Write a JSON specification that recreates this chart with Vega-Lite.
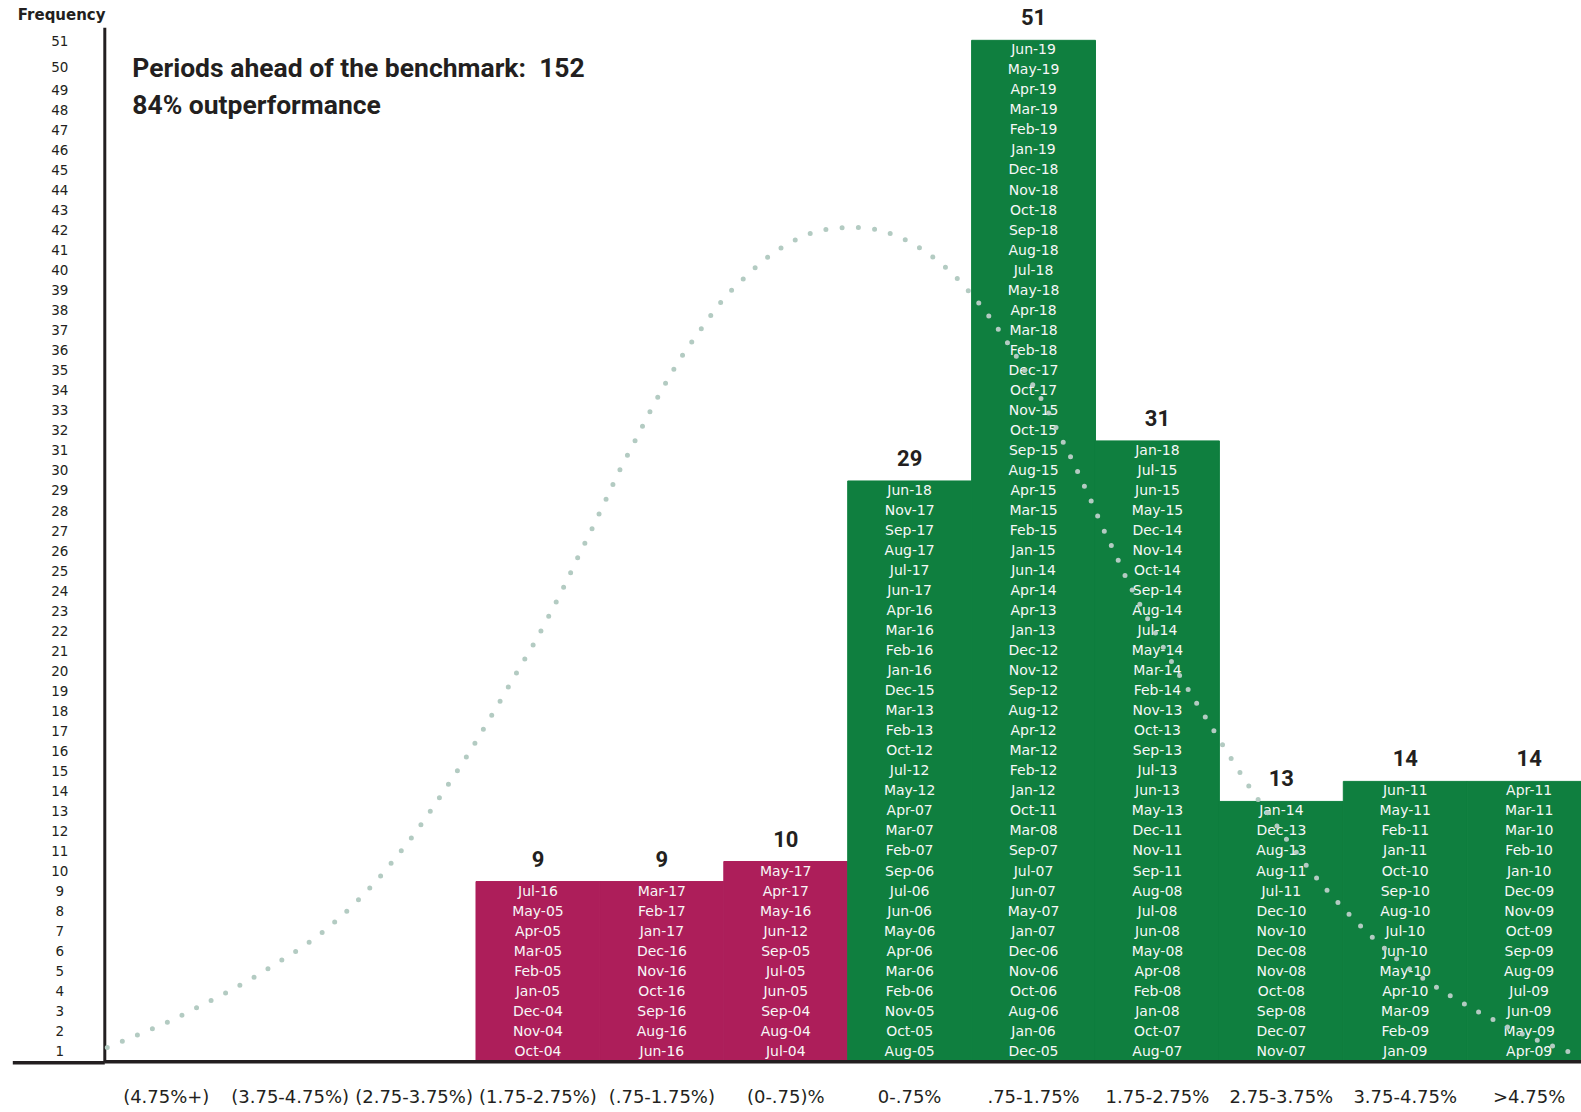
{
  "$schema": "https://vega.github.io/schema/vega-lite/v6.json",
  "width": 1477,
  "height": 1034.5,
  "autosize": {"type": "none"},
  "padding": {"left": 104.3, "top": 27.3, "right": 0, "bottom": 50.2},
  "background": "#ffffff",
  "config": {"view": {"stroke": null}},
  "datasets": {
    "cells": [
      {"c":"(1.75-2.75%)","n":9,"m":"Jul-16","g":"under"},
      {"c":"(1.75-2.75%)","n":8,"m":"May-05","g":"under"},
      {"c":"(1.75-2.75%)","n":7,"m":"Apr-05","g":"under"},
      {"c":"(1.75-2.75%)","n":6,"m":"Mar-05","g":"under"},
      {"c":"(1.75-2.75%)","n":5,"m":"Feb-05","g":"under"},
      {"c":"(1.75-2.75%)","n":4,"m":"Jan-05","g":"under"},
      {"c":"(1.75-2.75%)","n":3,"m":"Dec-04","g":"under"},
      {"c":"(1.75-2.75%)","n":2,"m":"Nov-04","g":"under"},
      {"c":"(1.75-2.75%)","n":1,"m":"Oct-04","g":"under"},
      {"c":"(.75-1.75%)","n":9,"m":"Mar-17","g":"under"},
      {"c":"(.75-1.75%)","n":8,"m":"Feb-17","g":"under"},
      {"c":"(.75-1.75%)","n":7,"m":"Jan-17","g":"under"},
      {"c":"(.75-1.75%)","n":6,"m":"Dec-16","g":"under"},
      {"c":"(.75-1.75%)","n":5,"m":"Nov-16","g":"under"},
      {"c":"(.75-1.75%)","n":4,"m":"Oct-16","g":"under"},
      {"c":"(.75-1.75%)","n":3,"m":"Sep-16","g":"under"},
      {"c":"(.75-1.75%)","n":2,"m":"Aug-16","g":"under"},
      {"c":"(.75-1.75%)","n":1,"m":"Jun-16","g":"under"},
      {"c":"(0-.75)%","n":10,"m":"May-17","g":"under"},
      {"c":"(0-.75)%","n":9,"m":"Apr-17","g":"under"},
      {"c":"(0-.75)%","n":8,"m":"May-16","g":"under"},
      {"c":"(0-.75)%","n":7,"m":"Jun-12","g":"under"},
      {"c":"(0-.75)%","n":6,"m":"Sep-05","g":"under"},
      {"c":"(0-.75)%","n":5,"m":"Jul-05","g":"under"},
      {"c":"(0-.75)%","n":4,"m":"Jun-05","g":"under"},
      {"c":"(0-.75)%","n":3,"m":"Sep-04","g":"under"},
      {"c":"(0-.75)%","n":2,"m":"Aug-04","g":"under"},
      {"c":"(0-.75)%","n":1,"m":"Jul-04","g":"under"},
      {"c":"0-.75%","n":29,"m":"Jun-18","g":"over"},
      {"c":"0-.75%","n":28,"m":"Nov-17","g":"over"},
      {"c":"0-.75%","n":27,"m":"Sep-17","g":"over"},
      {"c":"0-.75%","n":26,"m":"Aug-17","g":"over"},
      {"c":"0-.75%","n":25,"m":"Jul-17","g":"over"},
      {"c":"0-.75%","n":24,"m":"Jun-17","g":"over"},
      {"c":"0-.75%","n":23,"m":"Apr-16","g":"over"},
      {"c":"0-.75%","n":22,"m":"Mar-16","g":"over"},
      {"c":"0-.75%","n":21,"m":"Feb-16","g":"over"},
      {"c":"0-.75%","n":20,"m":"Jan-16","g":"over"},
      {"c":"0-.75%","n":19,"m":"Dec-15","g":"over"},
      {"c":"0-.75%","n":18,"m":"Mar-13","g":"over"},
      {"c":"0-.75%","n":17,"m":"Feb-13","g":"over"},
      {"c":"0-.75%","n":16,"m":"Oct-12","g":"over"},
      {"c":"0-.75%","n":15,"m":"Jul-12","g":"over"},
      {"c":"0-.75%","n":14,"m":"May-12","g":"over"},
      {"c":"0-.75%","n":13,"m":"Apr-07","g":"over"},
      {"c":"0-.75%","n":12,"m":"Mar-07","g":"over"},
      {"c":"0-.75%","n":11,"m":"Feb-07","g":"over"},
      {"c":"0-.75%","n":10,"m":"Sep-06","g":"over"},
      {"c":"0-.75%","n":9,"m":"Jul-06","g":"over"},
      {"c":"0-.75%","n":8,"m":"Jun-06","g":"over"},
      {"c":"0-.75%","n":7,"m":"May-06","g":"over"},
      {"c":"0-.75%","n":6,"m":"Apr-06","g":"over"},
      {"c":"0-.75%","n":5,"m":"Mar-06","g":"over"},
      {"c":"0-.75%","n":4,"m":"Feb-06","g":"over"},
      {"c":"0-.75%","n":3,"m":"Nov-05","g":"over"},
      {"c":"0-.75%","n":2,"m":"Oct-05","g":"over"},
      {"c":"0-.75%","n":1,"m":"Aug-05","g":"over"},
      {"c":".75-1.75%","n":51,"m":"Jun-19","g":"over"},
      {"c":".75-1.75%","n":50,"m":"May-19","g":"over"},
      {"c":".75-1.75%","n":49,"m":"Apr-19","g":"over"},
      {"c":".75-1.75%","n":48,"m":"Mar-19","g":"over"},
      {"c":".75-1.75%","n":47,"m":"Feb-19","g":"over"},
      {"c":".75-1.75%","n":46,"m":"Jan-19","g":"over"},
      {"c":".75-1.75%","n":45,"m":"Dec-18","g":"over"},
      {"c":".75-1.75%","n":44,"m":"Nov-18","g":"over"},
      {"c":".75-1.75%","n":43,"m":"Oct-18","g":"over"},
      {"c":".75-1.75%","n":42,"m":"Sep-18","g":"over"},
      {"c":".75-1.75%","n":41,"m":"Aug-18","g":"over"},
      {"c":".75-1.75%","n":40,"m":"Jul-18","g":"over"},
      {"c":".75-1.75%","n":39,"m":"May-18","g":"over"},
      {"c":".75-1.75%","n":38,"m":"Apr-18","g":"over"},
      {"c":".75-1.75%","n":37,"m":"Mar-18","g":"over"},
      {"c":".75-1.75%","n":36,"m":"Feb-18","g":"over"},
      {"c":".75-1.75%","n":35,"m":"Dec-17","g":"over"},
      {"c":".75-1.75%","n":34,"m":"Oct-17","g":"over"},
      {"c":".75-1.75%","n":33,"m":"Nov-15","g":"over"},
      {"c":".75-1.75%","n":32,"m":"Oct-15","g":"over"},
      {"c":".75-1.75%","n":31,"m":"Sep-15","g":"over"},
      {"c":".75-1.75%","n":30,"m":"Aug-15","g":"over"},
      {"c":".75-1.75%","n":29,"m":"Apr-15","g":"over"},
      {"c":".75-1.75%","n":28,"m":"Mar-15","g":"over"},
      {"c":".75-1.75%","n":27,"m":"Feb-15","g":"over"},
      {"c":".75-1.75%","n":26,"m":"Jan-15","g":"over"},
      {"c":".75-1.75%","n":25,"m":"Jun-14","g":"over"},
      {"c":".75-1.75%","n":24,"m":"Apr-14","g":"over"},
      {"c":".75-1.75%","n":23,"m":"Apr-13","g":"over"},
      {"c":".75-1.75%","n":22,"m":"Jan-13","g":"over"},
      {"c":".75-1.75%","n":21,"m":"Dec-12","g":"over"},
      {"c":".75-1.75%","n":20,"m":"Nov-12","g":"over"},
      {"c":".75-1.75%","n":19,"m":"Sep-12","g":"over"},
      {"c":".75-1.75%","n":18,"m":"Aug-12","g":"over"},
      {"c":".75-1.75%","n":17,"m":"Apr-12","g":"over"},
      {"c":".75-1.75%","n":16,"m":"Mar-12","g":"over"},
      {"c":".75-1.75%","n":15,"m":"Feb-12","g":"over"},
      {"c":".75-1.75%","n":14,"m":"Jan-12","g":"over"},
      {"c":".75-1.75%","n":13,"m":"Oct-11","g":"over"},
      {"c":".75-1.75%","n":12,"m":"Mar-08","g":"over"},
      {"c":".75-1.75%","n":11,"m":"Sep-07","g":"over"},
      {"c":".75-1.75%","n":10,"m":"Jul-07","g":"over"},
      {"c":".75-1.75%","n":9,"m":"Jun-07","g":"over"},
      {"c":".75-1.75%","n":8,"m":"May-07","g":"over"},
      {"c":".75-1.75%","n":7,"m":"Jan-07","g":"over"},
      {"c":".75-1.75%","n":6,"m":"Dec-06","g":"over"},
      {"c":".75-1.75%","n":5,"m":"Nov-06","g":"over"},
      {"c":".75-1.75%","n":4,"m":"Oct-06","g":"over"},
      {"c":".75-1.75%","n":3,"m":"Aug-06","g":"over"},
      {"c":".75-1.75%","n":2,"m":"Jan-06","g":"over"},
      {"c":".75-1.75%","n":1,"m":"Dec-05","g":"over"},
      {"c":"1.75-2.75%","n":31,"m":"Jan-18","g":"over"},
      {"c":"1.75-2.75%","n":30,"m":"Jul-15","g":"over"},
      {"c":"1.75-2.75%","n":29,"m":"Jun-15","g":"over"},
      {"c":"1.75-2.75%","n":28,"m":"May-15","g":"over"},
      {"c":"1.75-2.75%","n":27,"m":"Dec-14","g":"over"},
      {"c":"1.75-2.75%","n":26,"m":"Nov-14","g":"over"},
      {"c":"1.75-2.75%","n":25,"m":"Oct-14","g":"over"},
      {"c":"1.75-2.75%","n":24,"m":"Sep-14","g":"over"},
      {"c":"1.75-2.75%","n":23,"m":"Aug-14","g":"over"},
      {"c":"1.75-2.75%","n":22,"m":"Jul-14","g":"over"},
      {"c":"1.75-2.75%","n":21,"m":"May-14","g":"over"},
      {"c":"1.75-2.75%","n":20,"m":"Mar-14","g":"over"},
      {"c":"1.75-2.75%","n":19,"m":"Feb-14","g":"over"},
      {"c":"1.75-2.75%","n":18,"m":"Nov-13","g":"over"},
      {"c":"1.75-2.75%","n":17,"m":"Oct-13","g":"over"},
      {"c":"1.75-2.75%","n":16,"m":"Sep-13","g":"over"},
      {"c":"1.75-2.75%","n":15,"m":"Jul-13","g":"over"},
      {"c":"1.75-2.75%","n":14,"m":"Jun-13","g":"over"},
      {"c":"1.75-2.75%","n":13,"m":"May-13","g":"over"},
      {"c":"1.75-2.75%","n":12,"m":"Dec-11","g":"over"},
      {"c":"1.75-2.75%","n":11,"m":"Nov-11","g":"over"},
      {"c":"1.75-2.75%","n":10,"m":"Sep-11","g":"over"},
      {"c":"1.75-2.75%","n":9,"m":"Aug-08","g":"over"},
      {"c":"1.75-2.75%","n":8,"m":"Jul-08","g":"over"},
      {"c":"1.75-2.75%","n":7,"m":"Jun-08","g":"over"},
      {"c":"1.75-2.75%","n":6,"m":"May-08","g":"over"},
      {"c":"1.75-2.75%","n":5,"m":"Apr-08","g":"over"},
      {"c":"1.75-2.75%","n":4,"m":"Feb-08","g":"over"},
      {"c":"1.75-2.75%","n":3,"m":"Jan-08","g":"over"},
      {"c":"1.75-2.75%","n":2,"m":"Oct-07","g":"over"},
      {"c":"1.75-2.75%","n":1,"m":"Aug-07","g":"over"},
      {"c":"2.75-3.75%","n":13,"m":"Jan-14","g":"over"},
      {"c":"2.75-3.75%","n":12,"m":"Dec-13","g":"over"},
      {"c":"2.75-3.75%","n":11,"m":"Aug-13","g":"over"},
      {"c":"2.75-3.75%","n":10,"m":"Aug-11","g":"over"},
      {"c":"2.75-3.75%","n":9,"m":"Jul-11","g":"over"},
      {"c":"2.75-3.75%","n":8,"m":"Dec-10","g":"over"},
      {"c":"2.75-3.75%","n":7,"m":"Nov-10","g":"over"},
      {"c":"2.75-3.75%","n":6,"m":"Dec-08","g":"over"},
      {"c":"2.75-3.75%","n":5,"m":"Nov-08","g":"over"},
      {"c":"2.75-3.75%","n":4,"m":"Oct-08","g":"over"},
      {"c":"2.75-3.75%","n":3,"m":"Sep-08","g":"over"},
      {"c":"2.75-3.75%","n":2,"m":"Dec-07","g":"over"},
      {"c":"2.75-3.75%","n":1,"m":"Nov-07","g":"over"},
      {"c":"3.75-4.75%","n":14,"m":"Jun-11","g":"over"},
      {"c":"3.75-4.75%","n":13,"m":"May-11","g":"over"},
      {"c":"3.75-4.75%","n":12,"m":"Feb-11","g":"over"},
      {"c":"3.75-4.75%","n":11,"m":"Jan-11","g":"over"},
      {"c":"3.75-4.75%","n":10,"m":"Oct-10","g":"over"},
      {"c":"3.75-4.75%","n":9,"m":"Sep-10","g":"over"},
      {"c":"3.75-4.75%","n":8,"m":"Aug-10","g":"over"},
      {"c":"3.75-4.75%","n":7,"m":"Jul-10","g":"over"},
      {"c":"3.75-4.75%","n":6,"m":"Jun-10","g":"over"},
      {"c":"3.75-4.75%","n":5,"m":"May-10","g":"over"},
      {"c":"3.75-4.75%","n":4,"m":"Apr-10","g":"over"},
      {"c":"3.75-4.75%","n":3,"m":"Mar-09","g":"over"},
      {"c":"3.75-4.75%","n":2,"m":"Feb-09","g":"over"},
      {"c":"3.75-4.75%","n":1,"m":"Jan-09","g":"over"},
      {"c":">4.75%","n":14,"m":"Apr-11","g":"over"},
      {"c":">4.75%","n":13,"m":"Mar-11","g":"over"},
      {"c":">4.75%","n":12,"m":"Mar-10","g":"over"},
      {"c":">4.75%","n":11,"m":"Feb-10","g":"over"},
      {"c":">4.75%","n":10,"m":"Jan-10","g":"over"},
      {"c":">4.75%","n":9,"m":"Dec-09","g":"over"},
      {"c":">4.75%","n":8,"m":"Nov-09","g":"over"},
      {"c":">4.75%","n":7,"m":"Oct-09","g":"over"},
      {"c":">4.75%","n":6,"m":"Sep-09","g":"over"},
      {"c":">4.75%","n":5,"m":"Aug-09","g":"over"},
      {"c":">4.75%","n":4,"m":"Jul-09","g":"over"},
      {"c":">4.75%","n":3,"m":"Jun-09","g":"over"},
      {"c":">4.75%","n":2,"m":"May-09","g":"over"},
      {"c":">4.75%","n":1,"m":"Apr-09","g":"over"}
    ],
    "curve": [
      {"u":0.024,"v":0.71},{"u":0.262,"v":1.32},{"u":0.501,"v":1.95},{"u":0.732,"v":2.66},
      {"u":0.959,"v":3.37},{"u":1.182,"v":4.13},{"u":1.401,"v":4.96},{"u":1.592,"v":5.70},
      {"u":1.797,"v":6.65},{"u":1.996,"v":7.75},{"u":2.176,"v":8.90},{"u":2.348,"v":10.16},
      {"u":2.504,"v":11.39},{"u":2.657,"v":12.74},{"u":2.801,"v":14.08},{"u":2.943,"v":15.42},
      {"u":3.080,"v":16.82},{"u":3.212,"v":18.19},{"u":3.345,"v":19.61},{"u":3.451,"v":20.70},
      {"u":3.580,"v":22.16},{"u":3.701,"v":23.61},{"u":3.815,"v":25.09},{"u":3.932,"v":26.56},
      {"u":4.046,"v":28.04},{"u":4.159,"v":29.53},{"u":4.281,"v":30.97},{"u":4.402,"v":32.43},
      {"u":4.527,"v":33.85},{"u":4.668,"v":35.28},{"u":4.817,"v":36.59},{"u":4.973,"v":37.90},
      {"u":5.161,"v":39.11},{"u":5.357,"v":40.18},{"u":5.584,"v":41.05},{"u":5.834,"v":41.57},
      {"u":6.027,"v":41.66},{"u":6.158,"v":41.63},{"u":6.285,"v":41.46},{"u":6.412,"v":41.19},
      {"u":6.530,"v":40.83},{"u":6.640,"v":40.39},{"u":6.743,"v":39.90},{"u":6.842,"v":39.37},
      {"u":6.933,"v":38.78},{"u":7.019,"v":38.17},{"u":7.103,"v":37.53},{"u":7.181,"v":36.88},
      {"u":7.254,"v":36.22},{"u":7.329,"v":35.54},{"u":7.397,"v":34.84},{"u":7.463,"v":34.14},
      {"u":7.528,"v":33.44},{"u":7.590,"v":32.79},{"u":7.649,"v":32.07},{"u":7.708,"v":31.34},
      {"u":7.764,"v":30.62},{"u":7.824,"v":29.90},{"u":7.877,"v":29.18},{"u":7.931,"v":28.46},
      {"u":7.985,"v":27.72},{"u":8.044,"v":26.86},{"u":8.152,"v":25.46},{"u":8.270,"v":23.87},
      {"u":8.386,"v":22.52},{"u":8.542,"v":20.76},{"u":8.676,"v":19.32},{"u":8.819,"v":17.88},
      {"u":8.959,"v":16.49},{"u":9.102,"v":15.07},{"u":9.247,"v":13.68},{"u":9.403,"v":12.31},
      {"u":9.556,"v":10.99},{"u":9.717,"v":9.69},{"u":9.893,"v":8.39},{"u":10.073,"v":7.19},
      {"u":10.264,"v":6.05},{"u":10.425,"v":5.17},{"u":10.630,"v":4.22},{"u":10.843,"v":3.37},
      {"u":11.063,"v":2.59},{"u":11.283,"v":1.87},{"u":11.515,"v":1.20},{"u":11.755,"v":0.64},
      {"u":11.876,"v":0.39}
    ],
    "note": [
      {"t": "Periods ahead of the benchmark:\u00a0 152\n84% outperformance", "c": "(4.75%+)", "y": 49.15}
    ]
  },
  "layer": [
    {
      "layer": [
        {
          "data": {"name": "cells"},
          "mark": {"type": "bar", "strokeWidth": 1},
          "encoding": {
            "x": {
              "field": "c", "type": "nominal", "sort": null,
              "scale": {
                "domain": ["(4.75%+)", "(3.75-4.75%)", "(2.75-3.75%)", "(1.75-2.75%)", "(.75-1.75%)", "(0-.75)%", "0-.75%", ".75-1.75%", "1.75-2.75%", "2.75-3.75%", "3.75-4.75%", ">4.75%"],
                "range": [0, 1486.8], "paddingInner": 0, "paddingOuter": 0
              },
              "axis": {
                "title": null, "ticks": false, "domain": false, "grid": false,
                "labelFont": "DejaVu Sans", "labelFontSize": 18, "labelColor": "#231f20",
                "labelBaseline": "middle", "labelPadding": 36, "labelAngle": 0
              }
            },
            "y": {
              "aggregate": "count", "type": "quantitative",
              "scale": {"domain": [0, 51.65], "nice": false, "zero": true},
              "axis": {
                "title": "Frequency", "titleAngle": 0, "titleAlign": "left", "titleBaseline": "middle",
                "titleX": -87, "titleY": -13, "titleFont": "DejaVu Sans", "titleFontWeight": "bold",
                "titleFontSize": 15, "titleColor": "#231f20",
                "values": [0, 0.5, 1.5, 2.5, 3.5, 4.5, 5.5, 6.5, 7.5, 8.5, 9.5, 10.5, 11.5, 12.5, 13.5, 14.5, 15.5, 16.5, 17.5, 18.5, 19.5, 20.5, 21.5, 22.5, 23.5, 24.5, 25.5, 26.5, 27.5, 28.5, 29.5, 30.5, 31.5, 32.5, 33.5, 34.5, 35.5, 36.5, 37.5, 38.5, 39.5, 40.5, 41.5, 42.5, 43.5, 44.5, 45.5, 46.5, 47.5, 48.5, 49.65, 50.95],
                "tickCount": 80,
                "labelExpr": "datum.value == 0 ? '' : format(floor(datum.value) + 1, 'd')",
                "tickSize": {"condition": {"test": "datum.value == 0", "value": 92}, "value": 0},
                "tickWidth": 3.5, "tickColor": "#231f20",
                "labelPadding": 45, "labelAlign": "center", "labelBaseline": "middle",
                "labelFont": "DejaVu Sans", "labelFontSize": 13.5, "labelColor": "#231f20",
                "labelOverlap": false, "labelFlush": false, "labelBound": false,
                "domainColor": "#231f20", "domainWidth": 3, "grid": false
              }
            },
            "color": {
              "field": "g", "type": "nominal",
              "scale": {"domain": ["under", "over"], "range": ["#ad1e5a", "#0f7f3f"]},
              "legend": null
            },
            "stroke": {
              "field": "g", "type": "nominal",
              "scale": {"domain": ["under", "over"], "range": ["#ad1e5a", "#0f7f3f"]},
              "legend": null
            }
          }
        },
        {
          "data": {"name": "cells"},
          "mark": {"type": "text", "baseline": "middle", "align": "center", "dy": 10, "font": "DejaVu Sans", "fontSize": 14, "color": "#f7f7f7"},
          "encoding": {
            "x": {"field": "c", "type": "nominal", "sort": null},
            "y": {"field": "n", "type": "quantitative"},
            "text": {"field": "m", "type": "nominal"}
          }
        },
        {
          "data": {"name": "cells"},
          "transform": [{"aggregate": [{"op": "count", "as": "total"}], "groupby": ["c"]}],
          "mark": {"type": "text", "baseline": "middle", "align": "center", "dy": -22, "font": "Roboto", "fontWeight": "bold", "fontSize": 22, "color": "#231f20"},
          "encoding": {
            "x": {"field": "c", "type": "nominal", "sort": null},
            "y": {"field": "total", "type": "quantitative"},
            "text": {"field": "total", "type": "quantitative"}
          }
        },
        {
          "data": {"name": "note"},
          "mark": {"type": "text", "align": "left", "baseline": "alphabetic", "dx": -34, "lineBreak": "\n", "lineHeight": 37, "font": "Roboto", "fontWeight": "bold", "fontSize": 26.5, "color": "#231f20"},
          "encoding": {
            "x": {"field": "c", "type": "nominal", "sort": null},
            "y": {"field": "y", "type": "quantitative"},
            "text": {"field": "t", "type": "nominal"}
          }
        },
        {
          "data": {"name": "note"},
          "mark": {"type": "rule", "color": "#231f20", "strokeWidth": 3.5},
          "encoding": {"y": {"datum": 0, "type": "quantitative"}}
        }
      ]
    },
    {
      "data": {"name": "curve"},
      "mark": {"type": "line", "interpolate": "monotone", "strokeDash": [0, 16.3], "strokeCap": "round", "strokeWidth": 5, "color": "#b3cbc2"},
      "encoding": {
        "x": {"field": "u", "type": "quantitative", "scale": {"domain": [0, 12], "range": [0, 1486.8], "nice": false, "zero": false}, "axis": null},
        "y": {"field": "v", "type": "quantitative"}
      }
    }
  ],
  "resolve": {"scale": {"x": "independent"}}
}
